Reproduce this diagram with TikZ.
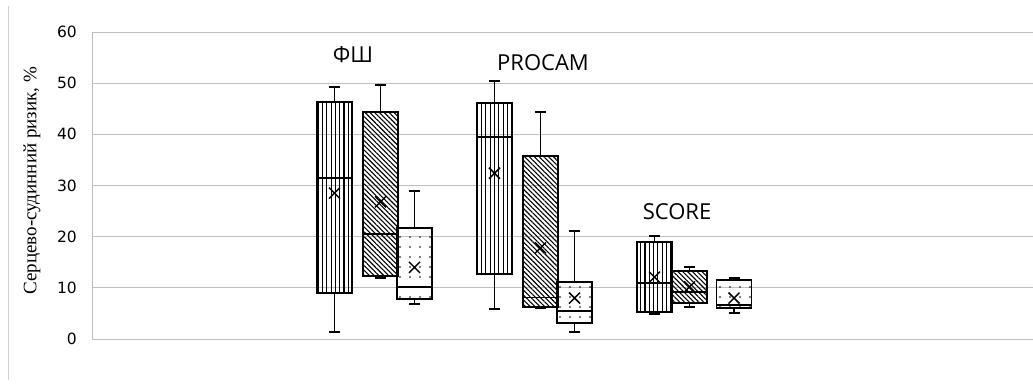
\documentclass[tikz,border=0pt]{standalone}
\usepackage{fontspec}
\setmainfont{Liberation Serif}
\newfontfamily\tickfont{DejaVu Sans}
\newfontfamily\groupfont{Open Sans}
\usetikzlibrary{patterns.meta}
\definecolor{cgrid}{HTML}{BFBFBF}
\definecolor{cframe}{HTML}{D0D0D0}
\tikzset{
	gridline/.style = {draw = cgrid, line width = 0.9pt},
	boxline/.style = {draw = black, line width = 1.7pt},
	meanmark/.style = {draw = black, line width = 1.5pt},
	stripes/.style = {pattern = {Lines[angle = 90, distance = 4.3pt, line width = 1.1pt]}},
	slashes/.style = {pattern = {Lines[angle = -45, distance = 3.4pt, line width = 1.1pt]}},
	speckle/.style = {pattern = {Dots[distance = 10pt, radius = 0.9pt]}},
	ticklabel/.style = {anchor = east, font = \tickfont\fontsize{15.5}{16}\selectfont, inner sep = 0pt},
	grouplabel/.style = {font = \groupfont\fontsize{22}{24}\selectfont, inner sep = 0pt}
}
% #1 centre, #2 fill, #3 low, #4 q1, #5 median, #6 q3, #7 high, #8 mean
\newcommand{\riskbox}[8]{%
	\draw[boxline] (#1,#4) -- (#1,#3) (#1-5.5,#3) -- (#1+5.5,#3);
	\draw[boxline] (#1,#6) -- (#1,#7) (#1-5.5,#7) -- (#1+5.5,#7);
	\draw[boxline, #2] (#1-17.5,#4) rectangle (#1+17.5,#6);
	\draw[boxline] (#1-17.5,#5) -- (#1+17.5,#5);
	\draw[meanmark] ([shift = {(-5.5pt,-5.5pt)}]#1,#8) -- ([shift = {(5.5pt,5.5pt)}]#1,#8)
		([shift = {(-5.5pt,5.5pt)}]#1,#8) -- ([shift = {(5.5pt,-5.5pt)}]#1,#8);
}

\begin{document}
\begin{tikzpicture}[x = 1pt, y = 5.117pt]
	\useasboundingbox (0,-9.38) rectangle (1033,66.25);
	% frame and grid
	\draw[draw = cframe, line width = 0.9pt] (8,-8) -- (8,65.1);
	\draw[gridline] (92,0) -- (1033,0) (92,10) -- (1033,10) (92,20) -- (1033,20) (92,30) -- (1033,30)
		(92,40) -- (1033,40) (92,50) -- (1033,50) (92,60) -- (1033,60);
	\draw[gridline] (92,0) -- (92,60);
	\node[ticklabel] (t0) at (77,0) {0};
	\node[ticklabel] (t10) at (77,10) {10};
	\node[ticklabel] (t20) at (77,20) {20};
	\node[ticklabel] (t30) at (77,30) {30};
	\node[ticklabel] (t40) at (77,40) {40};
	\node[ticklabel] (t50) at (77,50) {50};
	\node[ticklabel] (t60) at (77,60) {60};
	\node[rotate = 90, font = \fontsize{19}{20}\selectfont, inner sep = 0pt] (ytitle) at (32,30.9) {Серцево-судинний ризик, \%};
	% boxes
	\riskbox{334.5}{stripes}{1.4}{9.0}{31.5}{46.3}{49.2}{28.5}
	\riskbox{380.5}{slashes}{11.9}{12.3}{20.5}{44.4}{49.6}{26.8}
	\riskbox{414.5}{speckle}{6.8}{7.8}{10.2}{21.7}{28.9}{14.0}
	\riskbox{494.5}{stripes}{5.9}{12.7}{39.5}{46.1}{50.4}{32.4}
	\riskbox{540.5}{slashes}{6.0}{6.2}{8.1}{35.8}{44.4}{17.8}
	\riskbox{574.5}{speckle}{1.4}{3.1}{5.5}{11.1}{21.1}{8.0}
	\riskbox{654.5}{stripes}{4.9}{5.3}{11.0}{19.0}{20.1}{12.1}
	\riskbox{689.5}{slashes}{6.2}{7.0}{9.2}{13.3}{14.1}{10.2}
	\riskbox{734}{speckle}{5.1}{6.0}{6.6}{11.5}{11.9}{8.0}
	% group labels
	\node[grouplabel] (fsh) at (353,55.5) {ФШ};
	\node[grouplabel] (procam) at (543,54.1) {PROCAM};
	\node[grouplabel] (score) at (677,24.9) {SCORE};
\end{tikzpicture}
\end{document}
